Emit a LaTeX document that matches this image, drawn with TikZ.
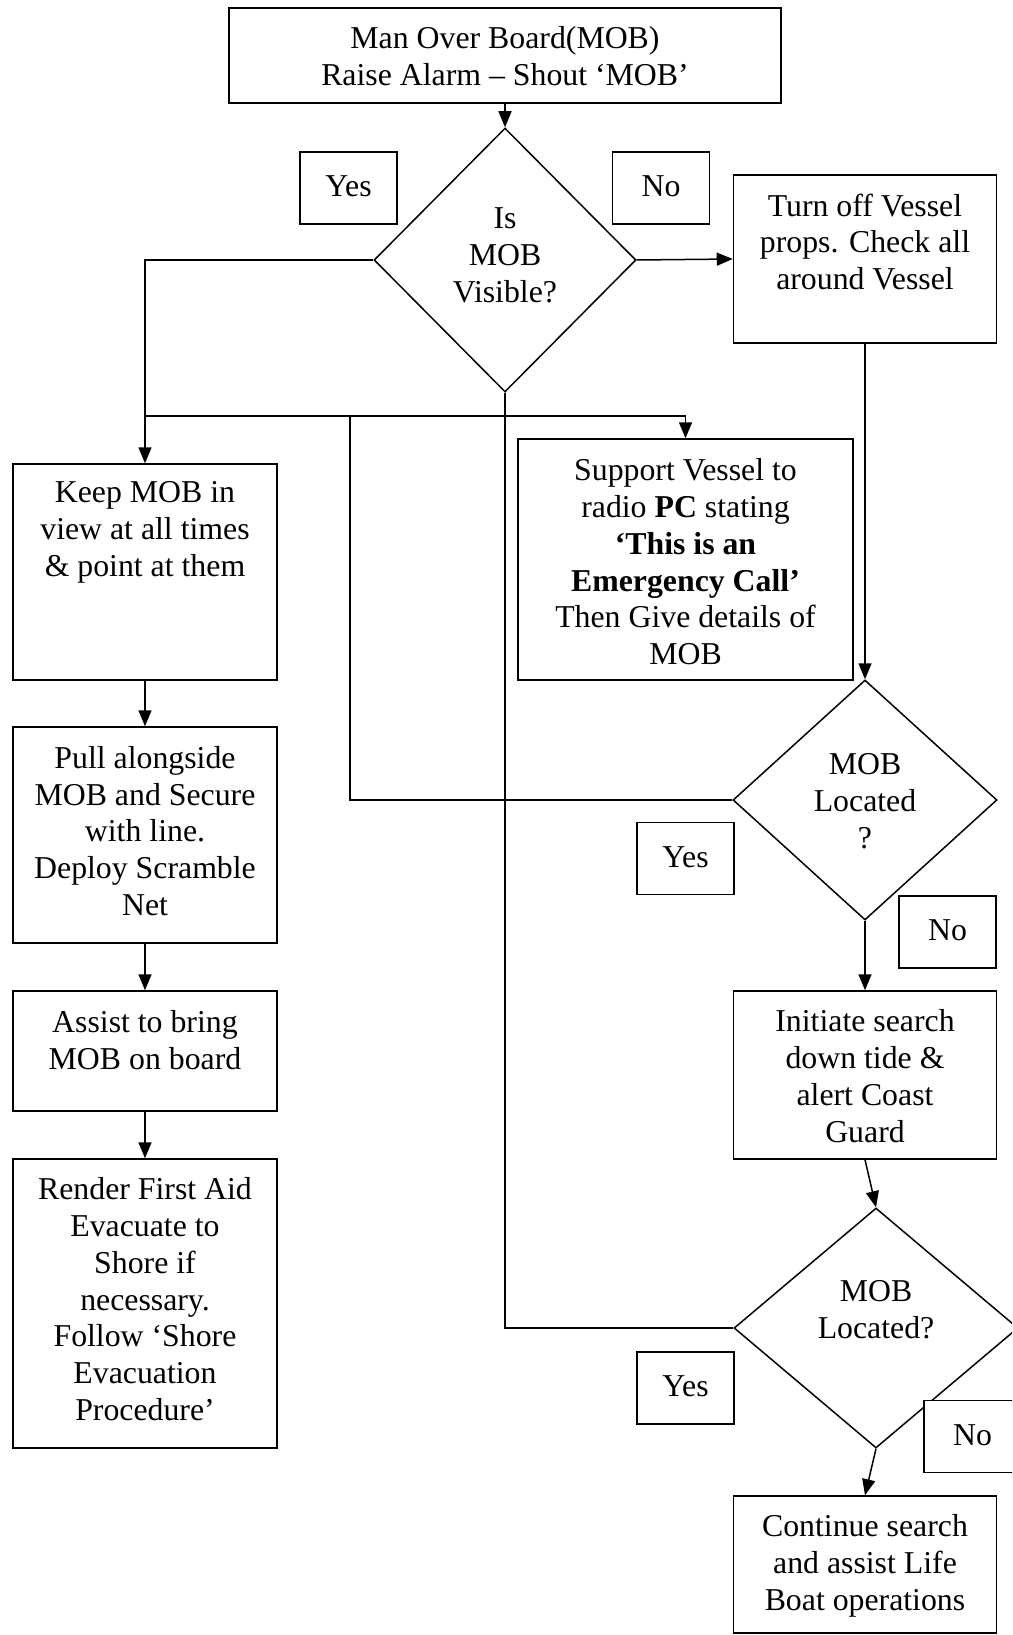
\documentclass[tikz,border=0pt]{standalone}
\usepackage{fontspec}
\setmainfont{Liberation Serif}
\usetikzlibrary{arrows.meta,shapes.geometric,calc}

\begin{document}
\begin{tikzpicture}[x=1pt,y=-1pt,
  shape box/.style={draw, line width=1.5pt, fill=white, inner sep=0pt, rectangle},
  decision/.style={draw, line width=1.5pt, fill=white, inner sep=0pt, diamond},
  txt/.style={anchor=north, inner sep=0pt, align=center,
              font=\fontsize{31.8pt}{36.8pt}\selectfont},
  answer/.style={shape box, minimum width=97pt, minimum height=72pt,
                 text depth=0.35em, font=\fontsize{31.8pt}{36.8pt}\selectfont},
  link/.style={line width=1.5pt},
  arrowlink/.style={link, -{Triangle[length=16pt,width=13pt]}}]

\useasboundingbox (0,0) rectangle (1012,1635);
\clip (0,0) rectangle (1012,1635);
\fill[white] (0,0) rectangle (1012,1635);

% ---------- shapes ----------
\node[shape box, minimum width=552pt, minimum height=95pt] (top) at (505,55.5) {};
\node[decision, minimum width=262pt, minimum height=264pt] (d1) at (505,260) {};
\node[shape box, minimum width=263pt, minimum height=168pt] (turn) at (865,259) {};
\node[shape box, minimum width=264pt, minimum height=216pt] (keep) at (145,572) {};
\node[shape box, minimum width=335pt, minimum height=241pt] (support) at (685.5,559.5) {};
\node[decision, minimum width=264pt, minimum height=240pt] (d2) at (865,800) {};
\node[shape box, minimum width=264pt, minimum height=216pt] (pull) at (145,835) {};
\node[shape box, minimum width=264pt, minimum height=120pt] (assist) at (145,1051) {};
\node[shape box, minimum width=264pt, minimum height=289pt] (render) at (145,1303.5) {};
\node[shape box, minimum width=263pt, minimum height=168pt] (init) at (865,1075) {};
\node[decision, minimum width=284pt, minimum height=240pt] (d3) at (876,1328) {};
\node[shape box, minimum width=263pt, minimum height=137pt] (cont) at (865,1564.5) {};

% ---------- connectors ----------
\coordinate (split) at (145,416);
\coordinate (join) at (350,416);
\draw[arrowlink] (top.south) -- (d1.north);
\draw[arrowlink] (d1.east) -- (turn.west);
\draw[arrowlink] (d1.west) -| (keep.north);
\draw[arrowlink] (split) -| (support.north);
\draw[link] (d2.west) -| (join);
\draw[link] (d1.south) |- (d3.west);
\draw[arrowlink] (turn.south) -- (d2.north);
\draw[arrowlink] (keep.south) -- (pull.north);
\draw[arrowlink] (pull.south) -- (assist.north);
\draw[arrowlink] (assist.south) -- (render.north);
\draw[arrowlink] (d2.south) -- (init.north);
\draw[arrowlink] (init.south) -- (d3.north);
\draw[arrowlink] (d3.south) -- (cont.north);

% ---------- texts ----------
\node[txt] (ttop) at (505,26) {Man Over Board(MOB)\\Raise Alarm – Shout ‘MOB’};
\node[txt] (td1) at (505,207.5) {Is\\MOB\\Visible?};
\node[txt] (tturn) at (865,193.5) {Turn off Vessel\\props. Check all\\around Vessel};
\node[txt] (tkeep) at (145,481.5) {Keep MOB in\\view at all times\\\& point at them};
\node[txt] (tsupport) at (685.5,458.5) {Support Vessel to\\radio \textbf{PC} stating\\\textbf{‘This is an}\\\textbf{Emergency Call’}\\Then Give details of\\MOB};
\node[txt] (td2) at (865,753.5) {MOB\\Located\\?};
\node[txt] (tpull) at (145,746) {Pull alongside\\MOB and Secure\\with line.\\Deploy Scramble\\Net};
\node[txt] (tassist) at (145,1010.5) {Assist to bring\\MOB on board};
\node[txt] (trender) at (145,1177.5) {Render First Aid\\Evacuate to\\Shore if\\necessary.\\Follow ‘Shore\\Evacuation\\Procedure’};
\node[txt] (tinit) at (865,1009.5) {Initiate search\\down tide \&\\alert Coast\\Guard};
\node[txt] (td3) at (876,1280.5) {MOB\\Located?};
\node[txt] (tcont) at (865,1514.5) {Continue search\\and assist Life\\Boat operations};

% ---------- answer labels ----------
\node[answer] (yes1) at (348.5,188) {Yes};
\node[answer] (no1) at (661,188) {No};
\node[answer] (yes2) at (685.5,858.5) {Yes};
\node[answer] (no2) at (947.5,932) {No};
\node[answer] (yes3) at (685.5,1388) {Yes};
\node[answer] (no3) at (972.5,1436.5) {No};

\end{tikzpicture}
\end{document}
